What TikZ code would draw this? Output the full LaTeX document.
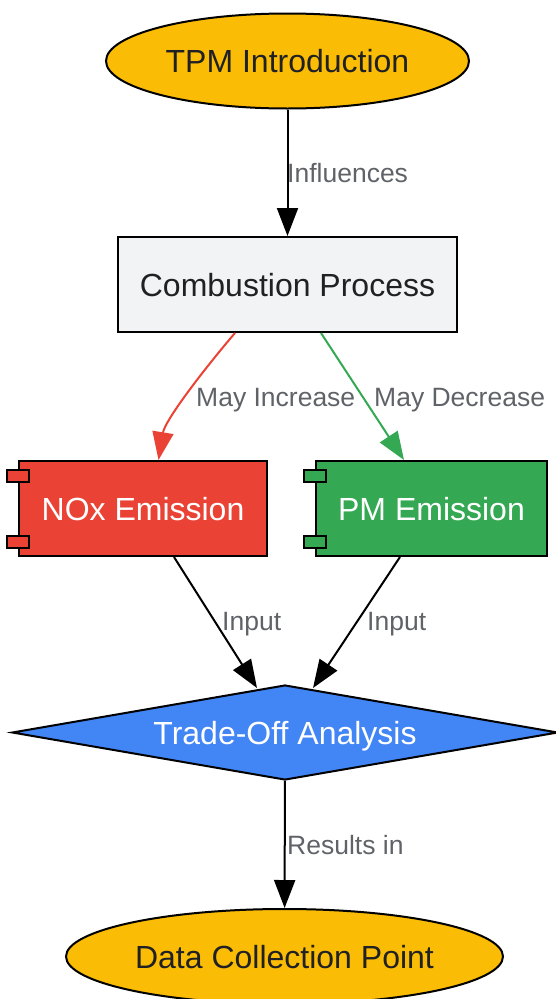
\documentclass[tikz,border=0pt]{standalone}
\usepackage{fontspec}
\setmainfont{Liberation Sans}
\usetikzlibrary{shapes.geometric,arrows.meta,calc}
\definecolor{tpmyellow}{HTML}{FBBC05}
\definecolor{combgray}{HTML}{F1F3F4}
\definecolor{noxred}{HTML}{EA4335}
\definecolor{pmgreen}{HTML}{34A853}
\definecolor{tradeblue}{HTML}{4285F4}
\definecolor{lblgray}{HTML}{5F6368}
\definecolor{txtdark}{HTML}{202124}

\begin{document}
\begin{tikzpicture}[x=1pt,y=-1pt,
  shapebox/.style={draw=black, line width=2pt, inner sep=0pt, text height=23pt, text depth=0pt, font=\fontsize{32}{38}\selectfont},
  oval/.style={shapebox, ellipse, fill=tpmyellow, text=txtdark},
  procbox/.style={shapebox, rectangle, minimum height=95pt},
  decide/.style={shapebox, diamond, shape aspect=5.75, fill=tradeblue, text=white, minimum width=546pt, minimum height=95pt},
  tab/.style={draw=black, line width=2pt},
  edge/.style={line width=2pt, -{Triangle[length=28pt,width=21pt]}},
  lbl/.style={anchor=west, inner sep=0pt, text height=19pt, text depth=0pt, text=lblgray, font=\fontsize{26.5}{31}\selectfont}]
\useasboundingbox (0,0) rectangle (556,999);
\node[oval, minimum width=363pt, minimum height=95pt] (tpm) at (287.5,61) {TPM Introduction};
\node[procbox, fill=combgray, text=txtdark, minimum width=339pt] (comb) at (287.5,284.5) {Combustion Process};
\node[procbox, fill=noxred, text=white, minimum width=248pt] (nox) at (143,508.5) {NOx Emission};
\node[procbox, fill=pmgreen, text=white, minimum width=231pt] (pm) at (431.5,508.5) {PM Emission};
\node[decide] (trade) at (285,732.5) {Trade-Off Analysis};
\node[oval, minimum width=437pt, minimum height=95pt] (data) at (284.5,956.5) {Data Collection Point};
\foreach \n/\c in {nox/noxred,pm/pmgreen}{
  \draw[tab, fill=\c] ($(\n.north west)+(-11,10)$) rectangle ++(22,12);
  \draw[tab, fill=\c] ($(\n.south west)+(-11,-9)$) rectangle ++(22,-12);
}
\draw[edge] (tpm) -- (comb);
\draw[edge, noxred] ([xshift=-52.5pt]comb.south) .. controls (205,368) and (165,420) .. ([xshift=15.5pt]nox.north);
\draw[edge, pmgreen] ([xshift=33.5pt]comb.south) -- ([xshift=-27.5pt]pm.north);
\draw[edge] ([xshift=31pt]nox.south) -- ($(trade.north)+(-28,4)$);
\draw[edge] ([xshift=-31.5pt]pm.south) -- ($(trade.north)+(28,4)$);
\draw[edge] (trade) -- (data);
\node[lbl] (lInfl) at (287,173) {Influences};
\node[lbl] (lInc) at (196,397) {May Increase};
\node[lbl] (lDec) at (374,397) {May Decrease};
\node[lbl] (lInA) at (222,621) {Input};
\node[lbl] (lInB) at (367,621) {Input};
\node[lbl] (lRes) at (287,845) {Results in};
\end{tikzpicture}
\end{document}
